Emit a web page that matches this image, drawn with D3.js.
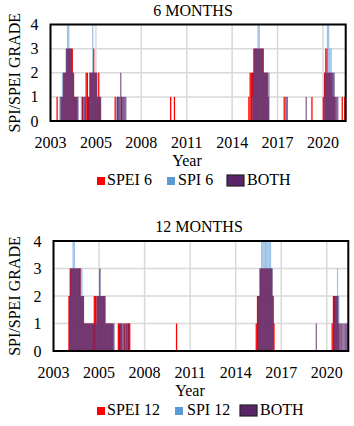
<!DOCTYPE html>
<html><head><meta charset="utf-8">
<script src="https://cdn.jsdelivr.net/npm/d3@7"></script>
<style>
html,body{margin:0;padding:0;background:#fff;}
svg{display:block;font-family:"Liberation Serif","Times New Roman",serif;}
</style></head>
<body>
<svg id="c" width="354" height="426"></svg>
<script>
// ---- data (month index from start of record, SPI/SPEI grade) ----
const tickLabels = ["2003","2005","2008","2011","2014","2017","2020"];
const tickMonths = [0,36,72,108,144,180,216];
const yTicks = [0,1,2,3,4];

// 6-month panel
const months6 = 234;
const spei6 = [[5,1],[9,1],[10,2],[11,2],[12,2],[13,3],[14,3],[15,3],[16,3],[17,3],[18,2],[19,1],[20,1],
  [25,1],[28,2],[29,2],[30,1],[31,2],[32,2],[33,2],[34,3],[35,2],[36,2],[37,1],[38,2],[39,1],
  [51,1],[53,1],[56,1],[95,1],[98,1],
  [157,1],[158,2],[159,2],[160,2],[161,3],[162,3],[163,3],[164,3],[165,3],[166,3],[167,3],[168,3],[169,2],[170,2],[171,2],[172,2],
  [185,1],[207,1],
  [216,1],[217,2],[218,3],[219,3],[220,2],[221,2],[222,2],[223,1],[224,1],[225,1],[231,1],[233,1]];
const spi6 = [[8,1],[9,2],[10,2],[11,2],[12,3],[13,4],[14,4],[15,3],[16,3],[17,2],[18,1],[20,1],[21,1],
  [24,1],[26,1],[27,1],[31,1],[32,2],[33,4],[34,2],[35,2],[36,2],[37,1],[39,1],
  [53,1],[57,1],
  [160,1],[161,2],[162,3],[163,3],[164,4],[165,4],[166,3],[167,3],[168,2],[169,2],[170,2],[171,2],[172,2],[173,2],
  [186,1],
  [217,1],[218,2],[219,4],[220,4],[221,3],[222,3],[223,2],[224,2],[225,1]];
const both6 = [[7,1],[8,1],[9,1],[10,2],[11,2],[12,3],[13,3],[14,3],[15,3],[16,3],[17,2],[18,1],[19,1],[20,1],[21,1],
  [25,1],[26,1],[27,1],[29,1],[30,1],[31,2],[32,2],[33,2],[34,2],[35,2],[36,2],[37,1],[38,1],[39,1],
  [52,1],[53,1],[54,1],[55,2],[56,1],[57,1],[58,1],[59,1],
  [160,2],[161,3],[162,3],[163,3],[164,3],[165,3],[166,3],[167,3],[168,3],[169,2],[170,2],[171,2],[172,1],
  [186,1],[187,1],[202,1],
  [217,2],[218,2],[219,2],[220,2],[221,2],[222,2],[223,2],[224,2],[225,1],[226,1],[227,1]];

// 12-month panel
const months12 = 233;
const spei12 = [[12,2],[13,3],[14,3],[15,3],[16,3],[17,3],[18,3],[19,3],[20,3],[21,3],[22,2],[23,2],
  [24,1],[25,1],[26,1],[27,1],[28,1],[29,1],[30,1],[31,1],[32,2],[33,2],[34,2],[35,2],[36,2],[37,2],[38,2],[39,2],[40,2],
  [41,1],[42,1],[43,1],[44,1],[45,1],[46,1],
  [51,1],[52,1],[53,1],[56,1],[57,1],[59,1],[60,1],[97,1],
  [160,1],[161,2],[162,2],[163,3],[164,3],[165,3],[166,3],[167,3],[168,3],[169,3],[170,3],[171,3],[172,3],[173,2],[174,1],
  [220,1],[221,2],[222,2],[223,2],[224,2],[225,1]];
const spi12 = [[13,2],[14,3],[15,4],[16,4],[17,3],[18,3],[19,3],[20,2],[21,3],[22,3],[23,2],
  [24,1],[25,1],[26,1],[27,1],[28,1],[29,1],[30,1],[33,1],[34,2],[35,2],[36,3],[37,2],[38,2],[39,2],[40,2],
  [41,1],[42,1],[43,1],[44,1],[45,1],[46,1],[47,1],
  [53,1],[55,1],[58,1],
  [162,2],[163,3],[164,4],[165,4],[166,4],[167,4],[168,4],[169,4],[170,4],[171,4],[172,3],[173,2],
  [222,1],[223,2],[224,3],[225,2]];
const both12 = [[12,2],[13,3],[14,3],[15,3],[16,3],[17,3],[18,3],[19,3],[20,3],[21,2],[22,2],[23,2],
  [24,1],[25,1],[26,1],[27,1],[28,1],[29,1],[30,1],[31,1],[32,1],[33,1],[34,2],[35,2],[36,3],[37,2],[38,2],[39,2],[40,2],
  [41,1],[42,1],[43,1],[44,1],[45,1],[46,1],[47,1],
  [52,1],[53,1],[54,1],[55,1],[57,1],[58,1],[59,1],
  [161,2],[162,2],[163,3],[164,3],[165,3],[166,3],[167,3],[168,3],[169,3],[170,3],[171,3],[172,3],[173,2],
  [207,1],
  [221,2],[222,2],[223,2],[224,2],[225,1],[226,1],[227,1],[228,1],[229,1],[230,1],[231,1],[232,1]];

const colors = {spei:"#ff0000", spi:"#5b9bd5", both:"#5a2468"};

const svg = d3.select("#c");

function panel(cfg){
  const g = svg.append("g");
  const x = d3.scaleLinear().domain([0,cfg.n]).range([cfg.left,cfg.right]);
  const y = d3.scaleLinear().domain([0,4]).range([cfg.bottom,cfg.top]);
  // gridlines
  g.append("g").selectAll("line").data([1,2,3]).join("line")
    .attr("x1",cfg.left).attr("x2",cfg.right).attr("y1",d=>y(d)).attr("y2",d=>y(d))
    .attr("stroke","#d9d9d9").attr("stroke-width",1.5);
  g.append("g").selectAll("line").data(tickMonths.slice(1)).join("line")
    .attr("x1",d=>x(d)).attr("x2",d=>x(d)).attr("y1",cfg.top).attr("y2",cfg.bottom)
    .attr("stroke","#d9d9d9").attr("stroke-width",1.5);
  // bars : overlapping columns, slightly offset (SPEI, SPI, BOTH)
  const series = [[cfg.spei,colors.spei,-0.25,1],[cfg.spi,colors.spi,0,0.6],[cfg.both,colors.both,0.2,0.72]];
  const bw = x(1)-x(0);
  series.forEach(([data,col,off,op])=>{
    g.append("g").selectAll("rect").data(data).join("rect")
      .attr("x",d=>x(d[0]+off))
      .attr("width",bw)
      .attr("y",d=>y(d[1]))
      .attr("height",d=>y(0)-y(d[1]))
      .attr("fill",col).attr("fill-opacity",op);
  });
  // frame
  g.append("rect").attr("x",cfg.left).attr("y",cfg.top)
    .attr("width",cfg.right-cfg.left).attr("height",cfg.bottom-cfg.top)
    .attr("fill","none").attr("stroke","#000").attr("stroke-width",2);
  // y ticks
  g.append("g").selectAll("text").data(yTicks).join("text")
    .attr("x",cfg.left-12).attr("y",d=>y(d)+5.5).attr("text-anchor","end")
    .attr("font-size",16).text(d=>d);
  // x ticks
  g.append("g").selectAll("text").data(tickMonths).join("text")
    .attr("x",d=>x(d)).attr("y",cfg.bottom+27).attr("text-anchor","middle")
    .attr("font-size",16).text((d,i)=>tickLabels[i]);
  // titles
  g.append("text").attr("x",cfg.titleX).attr("y",cfg.top-9).attr("text-anchor","middle")
    .attr("font-size",16).text(cfg.title);
  g.append("text").attr("x",cfg.yearX).attr("y",cfg.bottom+45).attr("text-anchor","middle")
    .attr("font-size",16).text("Year");
  g.append("text").attr("transform",`translate(20,${(cfg.top+cfg.bottom)/2}) rotate(-90)`)
    .attr("text-anchor","middle").attr("font-size",16).text("SPI/SPEI GRADE");
  // legend
  const ly = cfg.bottom+64;
  cfg.legend.forEach(l=>{
    if(l.big){
      g.append("rect").attr("x",l.sx).attr("y",ly-10).attr("width",17).attr("height",11)
        .attr("fill",l.col).attr("stroke","#222").attr("stroke-width",1.2);
    } else {
      g.append("rect").attr("x",l.sx).attr("y",ly-8).attr("width",8).attr("height",8).attr("fill",l.col);
    }
    g.append("text").attr("x",l.tx).attr("y",ly).attr("font-size",16).text(l.label);
  });
}

panel({left:50.5,right:345.7,top:24.5,bottom:121,n:months6,
  spei:spei6,spi:spi6,both:both6,title:"6 MONTHS",titleX:193,yearX:187,
  legend:[{sx:97,tx:107,label:"SPEI 6",col:colors.spei},
          {sx:167,tx:178,label:"SPI 6",col:colors.spi},
          {sx:227,tx:247,label:"BOTH",col:colors.both,big:true}]});
panel({left:53.5,right:348.3,top:241,bottom:351,n:months12,
  spei:spei12,spi:spi12,both:both12,title:"12 MONTHS",titleX:199,yearX:190,
  legend:[{sx:97,tx:107,label:"SPEI 12",col:colors.spei},
          {sx:175,tx:187,label:"SPI 12",col:colors.spi},
          {sx:240,tx:260,label:"BOTH",col:colors.both,big:true}]});
</script>
</body></html>
